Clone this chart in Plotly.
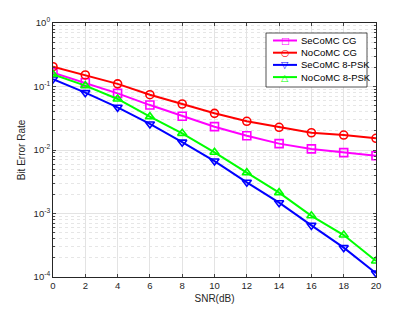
import plotly.graph_objects as go

snr = [0, 2, 4, 6, 8, 10, 12, 14, 16, 18, 20]
secomc_cg = [0.165, 0.115, 0.078, 0.051, 0.034, 0.0233, 0.0168, 0.0126, 0.0104, 0.0091, 0.0081]
nocomc_cg = [0.205, 0.152, 0.11, 0.0743, 0.053, 0.0378, 0.0283, 0.0228, 0.0187, 0.0172, 0.0153]
secomc_psk = [0.131, 0.08, 0.047, 0.0257, 0.0133, 0.0067, 0.0031, 0.00148, 0.00065, 0.00029, 0.000115]
nocomc_psk = [0.155, 0.103, 0.0636, 0.0335, 0.0183, 0.0092, 0.0044, 0.00213, 0.00092, 0.000458, 0.000179]
names = ["SeCoMC CG", "NoCoMC CG", "SeCoMC 8-PSK", "NoCoMC 8-PSK"]
ytick_vals = [1e-4, 1e-3, 1e-2, 1e-1, 1]
ytick_text = ["10<sup>-4</sup>", "10<sup>-3</sup>", "10<sup>-2</sup>", "10<sup>-1</sup>", "10<sup>0</sup>"]

colors = ["#ff00ff", "#ff0000", "#0000ff", "#00ff00"]
symbols = ["square-open", "circle-open", "triangle-down-open", "triangle-up-open"]
glyphs = ["\u25a1", "\u25cb", "\u25bd", "\u25b3"]
data = [secomc_cg, nocomc_cg, secomc_psk, nocomc_psk]

W, H = 415, 312
L, R, T, B = 53, 39, 23, 35
PW, PH = W - L - R, H - T - B
font = "Liberation Sans, Arial, sans-serif"


def dx(px):
    return (px - L) / PW


def dy(py):
    return (H - B - py) / PH


fig = go.Figure()
for name, ys, col, sym in zip(names, data, colors, symbols):
    fig.add_trace(go.Scatter(
        x=snr, y=ys, name=name, mode="lines+markers", showlegend=False,
        line=dict(color=col, width=2),
        marker=dict(symbol=sym, size=8, color=col, line=dict(color=col, width=1.6)),
    ))

# manual legend (layout positions in pixels, converted to axis-domain fractions)
box = dict(left=266, right=367, top=33, bottom=87)
row0, row_gap = 40.5, 12.2
line_a, line_b, text_x = 273, 297, 299
shapes = [dict(type="rect", xref="x domain", yref="y domain",
               x0=dx(box["left"]), x1=dx(box["right"]),
               y0=dy(box["bottom"]), y1=dy(box["top"]),
               line=dict(color="#262626", width=0.8), fillcolor="white", layer="above")]
annotations = []
for i, (name, col, g) in enumerate(zip(names, colors, glyphs)):
    ry = row0 + i * row_gap
    shapes.append(dict(type="line", xref="x domain", yref="y domain",
                       x0=dx(line_a), x1=dx(line_b), y0=dy(ry), y1=dy(ry),
                       line=dict(color=col, width=2), layer="above"))
    annotations.append(dict(x=dx(text_x), y=dy(ry), xref="x domain", yref="y domain",
                            text=name, showarrow=False, xanchor="left", yanchor="middle",
                            font=dict(family=font, size=9.5, color="#000000")))
    annotations.append(dict(x=dx((line_a + line_b) / 2), y=dy(ry), xref="x domain", yref="y domain",
                            text="<b>" + g + "</b>", showarrow=False, xanchor="center", yanchor="middle",
                            font=dict(family="DejaVu Sans", size=9.5, color=col)))

fig.update_layout(
    width=W, height=H,
    margin=dict(l=L, r=R, t=T, b=B),
    paper_bgcolor="white", plot_bgcolor="white",
    font=dict(family=font, size=9.5, color="#262626"),
    showlegend=False,
    shapes=shapes, annotations=annotations,
)
fig.update_layout(xaxis=dict(
    range=[0, 20], tickvals=snr, ticks="inside", ticklen=3, automargin=False,
    showline=True, linecolor="#262626", linewidth=1, mirror="ticks",
    showgrid=True, gridcolor="#e3e3e3", gridwidth=1, zeroline=False,
    title=dict(text="SNR(dB)", font=dict(size=10), standoff=4),
    tickfont=dict(size=9.5),
))
fig.update_layout(yaxis=dict(
    type="log", range=[-4, 0],
    tickvals=ytick_vals, ticktext=ytick_text,
    ticks="inside", ticklen=3, automargin=False,
    showline=True, linecolor="#262626", linewidth=1, mirror="ticks",
    showgrid=True, gridcolor="#e3e3e3", gridwidth=1, zeroline=False,
    minor=dict(showgrid=True, gridcolor="#e6e6e6", griddash="dot", ticks="inside", ticklen=2,
               dtick="D1"),
    title=dict(text="Bit Error Rate", font=dict(size=10), standoff=6),
    tickfont=dict(size=9.5),
))
fig.write_html("out.html", config={"displayModeBar": False},
               post_script="document.body.style.margin='0';")
